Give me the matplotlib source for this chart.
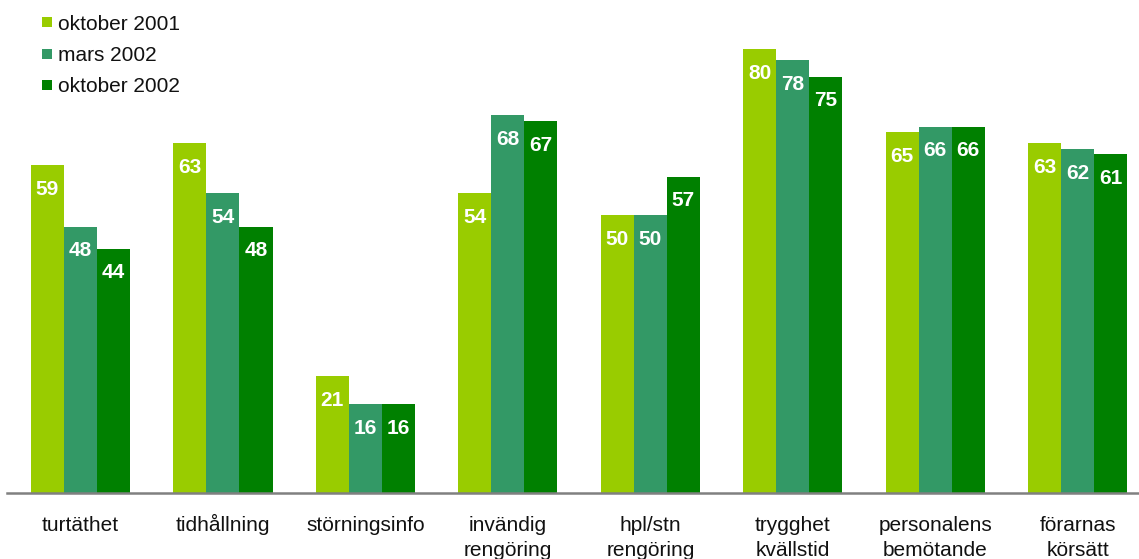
import matplotlib
matplotlib.use("Agg")
import matplotlib.pyplot as plt
from matplotlib.patches import Rectangle
from matplotlib.transforms import blended_transform_factory
import numpy as np

plt.rcParams['font.family'] = ['Liberation Sans', 'DejaVu Sans']

categories = ["turtäthet", "tidhållning", "störningsinfo", "invändig\nrengöring",
              "hpl/stn\nrengöring", "trygghet\nkvällstid", "personalens\nbemötande",
              "förarnas\nkörsätt"]
series_names = ["oktober 2001", "mars 2002", "oktober 2002"]
okt2001 = [59, 63, 21, 54, 50, 80, 65, 63]
mars2002 = [48, 54, 16, 68, 50, 78, 66, 62]
okt2002 = [44, 48, 16, 67, 57, 75, 66, 61]
colors = ["#99CC00", "#339966", "#008000"]

W, H = 1139, 559
fig = plt.figure(figsize=(W / 100, H / 100), dpi=100)
ax = fig.add_axes([7 / W, 66 / H, (W - 7) / W, 493 / H])

x = np.arange(len(categories))
bw = 0.232
for i, (vals, col) in enumerate(zip([okt2001, mars2002, okt2002], colors)):
    pos = x + (i - 1) * bw
    ax.bar(pos, vals, width=bw, color=col, linewidth=0)
    for p, v in zip(pos, vals):
        ax.annotate(str(v), (p, v), xytext=(0, -16), textcoords="offset points",
                    ha="center", va="center_baseline", color="white", fontsize=15,
                    fontweight="bold")

ax.set_xlim(-0.516, 7.43)
ax.set_ylim(0, 88.8)
for s in ["top", "right", "left"]:
    ax.spines[s].set_visible(False)
ax.spines["bottom"].set_color("#808080")
ax.spines["bottom"].set_linewidth(1.8)
ax.set_yticks([])
ax.set_xticks([])

trans = blended_transform_factory(ax.transData, fig.transFigure)
for xi, cat in zip(x, categories):
    for j, line in enumerate(cat.split("\n")):
        yb = 531 + j * 25
        ax.text(xi, 1 - yb / H, line, transform=trans, ha="center", va="baseline",
                fontsize=15, color="#111111", clip_on=False)

# legend
for i, (name, col) in enumerate(zip(series_names, colors)):
    yc = 22 + i * 31.5
    fig.patches.append(Rectangle((42 / W, 1 - (yc + 5) / H), 10 / W, 10 / H,
                                 transform=fig.transFigure, color=col, linewidth=0))
    fig.text(58 / W, 1 - yc / H, name, fontsize=15, va="center_baseline", ha="left",
             color="#111111")

fig.savefig("out.png", dpi=100)
